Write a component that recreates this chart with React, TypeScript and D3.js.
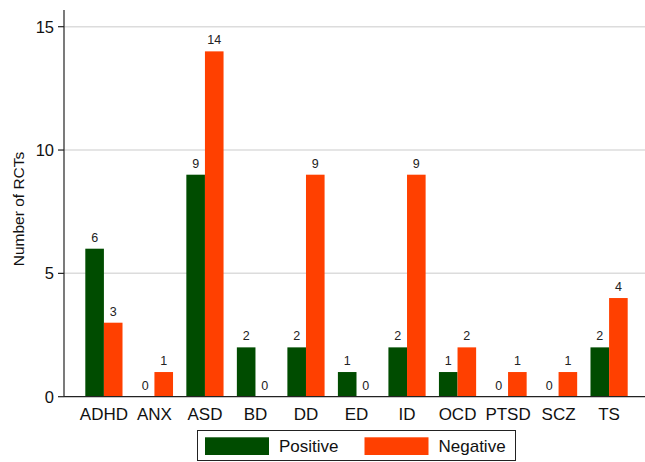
import React from "react";
import { scaleBand, scaleLinear } from "d3";

const categories = ["ADHD", "ANX", "ASD", "BD", "DD", "ED", "ID", "OCD", "PTSD", "SCZ", "TS"];
const positive = [6, 0, 9, 2, 2, 1, 2, 1, 0, 0, 2];
const negative = [3, 1, 14, 0, 9, 0, 9, 2, 1, 1, 4];
const yTicks = [0, 5, 10, 15];
const seriesNames = ["Positive", "Negative"];
const seriesColors = ["#004c00", "#ff4000"];

export default function App() {
  const width = 645;
  const height = 462;
  const margin = { top: 10, left: 64, bottom: 397 };
  const font = "'Liberation Sans', Arial, sans-serif";

  const x = scaleBand<string>()
    .domain(categories)
    .range([margin.left, 649])
    .paddingInner(0)
    .paddingOuter(0.29);

  const y = scaleLinear().domain([0, 15]).range([396.7, 26.7]);

  const barW = 18.6;
  const series = [positive, negative];

  return (
    <svg
      width={width}
      height={height}
      style={{ position: "absolute", left: 0, top: 0, background: "#fff" }}
      fontFamily={font}
    >
      {/* grid */}
      {yTicks.filter((t) => t > 0).map((t) => (
        <line key={t} x1={margin.left} x2={width} y1={y(t)} y2={y(t)} stroke="#dcdcdc" strokeWidth={1.5} />
      ))}

      {/* bars */}
      {categories.map((c, i) => {
        const cx = x(c)! + x.bandwidth() / 2;
        return (
          <g key={c}>
            {series.map((s, j) => {
              const bx = cx + (j === 0 ? -barW : 0);
              const v = s[i];
              return (
                <g key={j}>
                  {v > 0 && (
                    <rect
                      x={bx}
                      y={y(v)}
                      width={barW}
                      height={y(0) - y(v)}
                      fill={seriesColors[j]}
                    />
                  )}
                  <text
                    x={bx + barW / 2}
                    y={y(v) - 7}
                    textAnchor="middle"
                    fontSize={12.5}
                    fill="#222"
                  >
                    {v}
                  </text>
                </g>
              );
            })}
            <text x={cx} y={420} textAnchor="middle" fontSize={17} fill="#111">
              {c}
            </text>
          </g>
        );
      })}

      {/* axes */}
      <line x1={margin.left} x2={margin.left} y1={margin.top} y2={y(0)} stroke="#222" strokeWidth={1.2} />
      <line x1={margin.left} x2={width} y1={y(0)} y2={y(0)} stroke="#222" strokeWidth={1.2} />
      {yTicks.map((t) => (
        <g key={t}>
          <line x1={margin.left - 6} x2={margin.left} y1={y(t)} y2={y(t)} stroke="#222" strokeWidth={1.2} />
          <text x={54} y={y(t)} dy="0.36em" textAnchor="end" fontSize={16.5} fill="#111">
            {t}
          </text>
        </g>
      ))}
      <text
        transform={`translate(24, 209) rotate(-90)`}
        textAnchor="middle"
        fontSize={15.5}
        fill="#111"
      >
        Number of RCTs
      </text>

      {/* legend */}
      <g>
        <rect x={197.5} y={430.5} width={318} height={30} fill="#fff" stroke="#222" strokeWidth={1} />
        {seriesNames.map((n, j) => (
          <g key={n} transform={`translate(${205 + j * 159.5}, 437.3)`}>
            <rect x={0} y={0} width={64} height={17.7} fill={seriesColors[j]} />
            <text x={74} y={15} fontSize={17} fill="#111">
              {n}
            </text>
          </g>
        ))}
      </g>
    </svg>
  );
}
